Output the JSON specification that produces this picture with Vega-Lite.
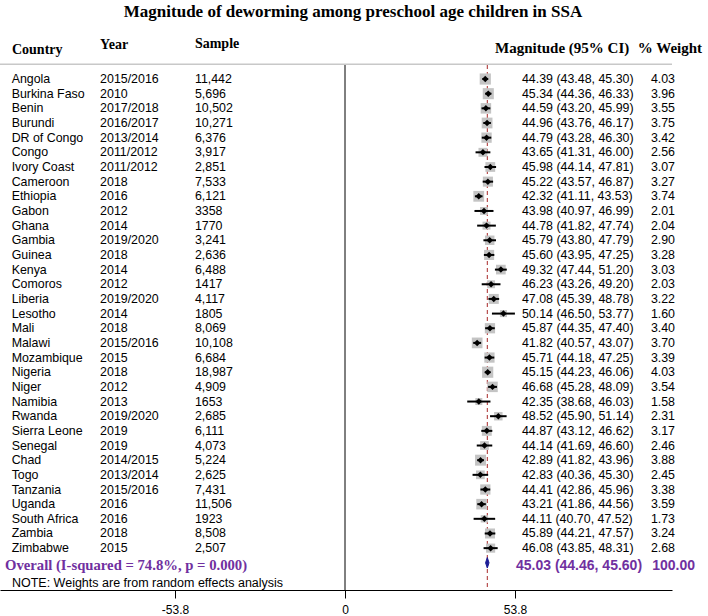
{
  "$schema": "https://vega.github.io/schema/vega-lite/v6.json",
  "width": 672,
  "height": 525,
  "autosize": {"type": "none"},
  "padding": {"left": 0, "top": 65, "right": 36, "bottom": 26},
  "background": "white",
  "config": {"view": {"stroke": null}},
  "title": {
    "text": "Magnitude of deworming among preschool age children in SSA",
    "font": "Liberation Serif",
    "fontSize": 17,
    "fontWeight": "bold",
    "color": "black",
    "anchor": "middle",
    "frame": "group",
    "offset": 16,
    "dx": 17
  },
  "datasets": {
    "studies": [
      {"country": "Angola", "year": "2015/2016", "sample": "11,442", "es": 44.39, "lo": 43.48, "hi": 45.30, "ci": "44.39 (43.48, 45.30)", "w": 4.03},
      {"country": "Burkina Faso", "year": "2010", "sample": "5,696", "es": 45.34, "lo": 44.36, "hi": 46.33, "ci": "45.34 (44.36, 46.33)", "w": 3.96},
      {"country": "Benin", "year": "2017/2018", "sample": "10,502", "es": 44.59, "lo": 43.20, "hi": 45.99, "ci": "44.59 (43.20, 45.99)", "w": 3.55},
      {"country": "Burundi", "year": "2016/2017", "sample": "10,271", "es": 44.96, "lo": 43.76, "hi": 46.17, "ci": "44.96 (43.76, 46.17)", "w": 3.75},
      {"country": "DR of Congo", "year": "2013/2014", "sample": "6,376", "es": 44.79, "lo": 43.28, "hi": 46.30, "ci": "44.79 (43.28, 46.30)", "w": 3.42},
      {"country": "Congo", "year": "2011/2012", "sample": "3,917", "es": 43.65, "lo": 41.31, "hi": 46.00, "ci": "43.65 (41.31, 46.00)", "w": 2.56},
      {"country": "Ivory Coast", "year": "2011/2012", "sample": "2,851", "es": 45.98, "lo": 44.14, "hi": 47.81, "ci": "45.98 (44.14, 47.81)", "w": 3.07},
      {"country": "Cameroon", "year": "2018", "sample": "7,533", "es": 45.22, "lo": 43.57, "hi": 46.87, "ci": "45.22 (43.57, 46.87)", "w": 3.27},
      {"country": "Ethiopia", "year": "2016", "sample": "6,121", "es": 42.32, "lo": 41.11, "hi": 43.53, "ci": "42.32 (41.11, 43.53)", "w": 3.74},
      {"country": "Gabon", "year": "2012", "sample": "3358", "es": 43.98, "lo": 40.97, "hi": 46.99, "ci": "43.98 (40.97, 46.99)", "w": 2.01},
      {"country": "Ghana", "year": "2014", "sample": "1770", "es": 44.78, "lo": 41.82, "hi": 47.74, "ci": "44.78 (41.82, 47.74)", "w": 2.04},
      {"country": "Gambia", "year": "2019/2020", "sample": "3,241", "es": 45.79, "lo": 43.80, "hi": 47.79, "ci": "45.79 (43.80, 47.79)", "w": 2.90},
      {"country": "Guinea", "year": "2018", "sample": "2,636", "es": 45.60, "lo": 43.95, "hi": 47.25, "ci": "45.60 (43.95, 47.25)", "w": 3.28},
      {"country": "Kenya", "year": "2014", "sample": "6,488", "es": 49.32, "lo": 47.44, "hi": 51.20, "ci": "49.32 (47.44, 51.20)", "w": 3.03},
      {"country": "Comoros", "year": "2012", "sample": "1417", "es": 46.23, "lo": 43.26, "hi": 49.20, "ci": "46.23 (43.26, 49.20)", "w": 2.03},
      {"country": "Liberia", "year": "2019/2020", "sample": "4,117", "es": 47.08, "lo": 45.39, "hi": 48.78, "ci": "47.08 (45.39, 48.78)", "w": 3.22},
      {"country": "Lesotho", "year": "2014", "sample": "1805", "es": 50.14, "lo": 46.50, "hi": 53.77, "ci": "50.14 (46.50, 53.77)", "w": 1.60},
      {"country": "Mali", "year": "2018", "sample": "8,069", "es": 45.87, "lo": 44.35, "hi": 47.40, "ci": "45.87 (44.35, 47.40)", "w": 3.40},
      {"country": "Malawi", "year": "2015/2016", "sample": "10,108", "es": 41.82, "lo": 40.57, "hi": 43.07, "ci": "41.82 (40.57, 43.07)", "w": 3.70},
      {"country": "Mozambique", "year": "2015", "sample": "6,684", "es": 45.71, "lo": 44.18, "hi": 47.25, "ci": "45.71 (44.18, 47.25)", "w": 3.39},
      {"country": "Nigeria", "year": "2018", "sample": "18,987", "es": 45.15, "lo": 44.23, "hi": 46.06, "ci": "45.15 (44.23, 46.06)", "w": 4.03},
      {"country": "Niger", "year": "2012", "sample": "4,909", "es": 46.68, "lo": 45.28, "hi": 48.09, "ci": "46.68 (45.28, 48.09)", "w": 3.54},
      {"country": "Namibia", "year": "2013", "sample": "1653", "es": 42.35, "lo": 38.68, "hi": 46.03, "ci": "42.35 (38.68, 46.03)", "w": 1.58},
      {"country": "Rwanda", "year": "2019/2020", "sample": "2,685", "es": 48.52, "lo": 45.90, "hi": 51.14, "ci": "48.52 (45.90, 51.14)", "w": 2.31},
      {"country": "Sierra Leone", "year": "2019", "sample": "6,111", "es": 44.87, "lo": 43.12, "hi": 46.62, "ci": "44.87 (43.12, 46.62)", "w": 3.17},
      {"country": "Senegal", "year": "2019", "sample": "4,073", "es": 44.14, "lo": 41.69, "hi": 46.60, "ci": "44.14 (41.69, 46.60)", "w": 2.46},
      {"country": "Chad", "year": "2014/2015", "sample": "5,224", "es": 42.89, "lo": 41.82, "hi": 43.96, "ci": "42.89 (41.82, 43.96)", "w": 3.88},
      {"country": "Togo", "year": "2013/2014", "sample": "2,625", "es": 42.83, "lo": 40.36, "hi": 45.30, "ci": "42.83 (40.36, 45.30)", "w": 2.45},
      {"country": "Tanzania", "year": "2015/2016", "sample": "7,431", "es": 44.41, "lo": 42.86, "hi": 45.96, "ci": "44.41 (42.86, 45.96)", "w": 3.38},
      {"country": "Uganda", "year": "2016", "sample": "11,506", "es": 43.21, "lo": 41.86, "hi": 44.56, "ci": "43.21 (41.86, 44.56)", "w": 3.59},
      {"country": "South Africa", "year": "2016", "sample": "1923", "es": 44.11, "lo": 40.70, "hi": 47.52, "ci": "44.11 (40.70, 47.52)", "w": 1.73},
      {"country": "Zambia", "year": "2018", "sample": "8,508", "es": 45.89, "lo": 44.21, "hi": 47.57, "ci": "45.89 (44.21, 47.57)", "w": 3.24},
      {"country": "Zimbabwe", "year": "2015", "sample": "2,507", "es": 46.08, "lo": 43.85, "hi": 48.31, "ci": "46.08 (43.85, 48.31)", "w": 2.68}
    ],
    "overall": [
      {"row": "Overall", "label": "Overall  (I-squared = 74.8%, p = 0.000)", "es": 45.03, "lo": 44.46, "hi": 45.60, "ci": "45.03 (44.46, 45.60)", "w": "100.00"}
    ],
    "single": [{}]
  },
  "data": {"name": "studies"},
  "layer": [
    {
      "data": {"name": "single"},
      "mark": {"type": "rule", "color": "#c8c8c8", "strokeWidth": 1.5},
      "encoding": {
        "y": {
          "datum": "gap",
          "type": "nominal",
          "axis": null,
          "scale": {
            "type": "point",
            "padding": 0,
            "range": [-15.3, 512.46],
            "domain": ["hdr", "gap", "Angola", "Burkina Faso", "Benin", "Burundi", "DR of Congo", "Congo", "Ivory Coast", "Cameroon", "Ethiopia", "Gabon", "Ghana", "Gambia", "Guinea", "Kenya", "Comoros", "Liberia", "Lesotho", "Mali", "Malawi", "Mozambique", "Nigeria", "Niger", "Namibia", "Rwanda", "Sierra Leone", "Senegal", "Chad", "Togo", "Tanzania", "Uganda", "South Africa", "Zambia", "Zimbabwe", "Overall", "NOTE"]
          }
        }
      }
    },
    {
      "data": {"name": "single"},
      "mark": {"type": "rule", "color": "black", "strokeWidth": 1},
      "encoding": {
        "x": {
          "datum": 0,
          "type": "quantitative",
          "scale": {"domain": [-109.18, 103.48], "nice": false, "zero": false},
          "axis": {
            "values": [-53.8, 0, 53.8],
            "labelExpr": "'' + datum.value",
            "title": null,
            "grid": false,
            "domainColor": "black",
            "domainWidth": 1,
            "tickColor": "black",
            "tickWidth": 1,
            "tickSize": 8,
            "labelFont": "Liberation Sans",
            "labelFontSize": 12,
            "labelColor": "black",
            "labelPadding": 6,
            "labelFlush": false
          }
        }
      }
    },
    {
      "data": {"name": "overall"},
      "mark": {"type": "rule", "color": "#a82828", "strokeWidth": 1, "strokeDash": [4, 3]},
      "encoding": {"x": {"field": "es", "type": "quantitative"}}
    },
    {
      "mark": {"type": "square", "color": "#c4c4c4", "opacity": 1, "filled": true},
      "encoding": {
        "x": {"field": "es", "type": "quantitative"},
        "y": {"field": "country", "type": "nominal"},
        "size": {"field": "w", "type": "quantitative", "scale": {"domain": [0, 4.03], "range": [0, 125], "zero": true}, "legend": null}
      }
    },
    {
      "mark": {"type": "rule", "color": "black", "strokeWidth": 2},
      "encoding": {
        "x": {"field": "lo", "type": "quantitative"},
        "x2": {"field": "hi"},
        "y": {"field": "country", "type": "nominal"}
      }
    },
    {
      "mark": {"type": "point", "shape": "diamond", "filled": true, "color": "black", "opacity": 1, "size": 42},
      "encoding": {
        "x": {"field": "es", "type": "quantitative"},
        "y": {"field": "country", "type": "nominal"}
      }
    },
    {
      "mark": {"type": "text", "align": "left", "baseline": "middle", "font": "Liberation Sans", "fontSize": 12.4, "color": "black"},
      "encoding": {
        "x": {"datum": -105.5, "type": "quantitative"},
        "y": {"field": "country", "type": "nominal"},
        "text": {"field": "country"}
      }
    },
    {
      "mark": {"type": "text", "align": "left", "baseline": "middle", "font": "Liberation Sans", "fontSize": 12.4, "color": "black"},
      "encoding": {
        "x": {"datum": -77.5, "type": "quantitative"},
        "y": {"field": "country", "type": "nominal"},
        "text": {"field": "year"}
      }
    },
    {
      "mark": {"type": "text", "align": "left", "baseline": "middle", "font": "Liberation Sans", "fontSize": 12.4, "color": "black"},
      "encoding": {
        "x": {"datum": -47.5, "type": "quantitative"},
        "y": {"field": "country", "type": "nominal"},
        "text": {"field": "sample"}
      }
    },
    {
      "mark": {"type": "text", "align": "left", "baseline": "middle", "font": "Liberation Sans", "fontSize": 12.4, "color": "black"},
      "encoding": {
        "x": {"datum": 56.0, "type": "quantitative"},
        "y": {"field": "country", "type": "nominal"},
        "text": {"field": "ci"}
      }
    },
    {
      "mark": {"type": "text", "align": "left", "baseline": "middle", "font": "Liberation Sans", "fontSize": 12.4, "color": "black"},
      "encoding": {
        "x": {"datum": 96.8, "type": "quantitative"},
        "y": {"field": "country", "type": "nominal"},
        "text": {"field": "w", "type": "quantitative", "format": ".2f"}
      }
    },
    {
      "data": {"name": "overall"},
      "mark": {"type": "point", "shape": "M0,-1L0.33,0L0,1L-0.33,0Z", "filled": true, "color": "#1c1c96", "stroke": "#1c1c96", "strokeWidth": 1, "opacity": 1, "size": 110},
      "encoding": {
        "x": {"field": "es", "type": "quantitative"},
        "y": {"field": "row", "type": "nominal"}
      }
    },
    {
      "data": {"name": "overall"},
      "mark": {"type": "text", "align": "left", "baseline": "middle", "font": "Liberation Serif", "fontWeight": "bold", "fontSize": 14.7, "color": "#7030a0", "dy": 3},
      "encoding": {
        "x": {"datum": -107.6, "type": "quantitative"},
        "y": {"field": "row", "type": "nominal"},
        "text": {"field": "label"}
      }
    },
    {
      "data": {"name": "overall"},
      "mark": {"type": "text", "align": "left", "baseline": "middle", "font": "Liberation Sans", "fontWeight": "bold", "fontSize": 14, "color": "#7030a0", "dy": 3},
      "encoding": {
        "x": {"datum": 54.1, "type": "quantitative"},
        "y": {"field": "row", "type": "nominal"},
        "text": {"field": "ci"}
      }
    },
    {
      "data": {"name": "overall"},
      "mark": {"type": "text", "align": "left", "baseline": "middle", "font": "Liberation Sans", "fontWeight": "bold", "fontSize": 14, "color": "#7030a0", "dy": 3},
      "encoding": {
        "x": {"datum": 97.2, "type": "quantitative"},
        "y": {"field": "row", "type": "nominal"},
        "text": {"field": "w"}
      }
    },
    {
      "data": {"name": "single"},
      "mark": {"type": "text", "align": "left", "baseline": "middle", "font": "Liberation Sans", "fontSize": 12.5, "color": "black", "dy": 5.5, "text": "NOTE: Weights are from random effects analysis"},
      "encoding": {
        "x": {"datum": -105.4, "type": "quantitative"},
        "y": {"datum": "NOTE", "type": "nominal"}
      }
    },
    {
      "data": {"name": "single"},
      "mark": {"type": "text", "align": "left", "baseline": "middle", "font": "Liberation Serif", "fontWeight": "bold", "fontSize": 14, "color": "black", "dy": 0, "text": "Country"},
      "encoding": {
        "x": {"datum": -105.4, "type": "quantitative"},
        "y": {"datum": "hdr", "type": "nominal"}
      }
    },
    {
      "data": {"name": "single"},
      "mark": {"type": "text", "align": "left", "baseline": "middle", "font": "Liberation Serif", "fontWeight": "bold", "fontSize": 14, "color": "black", "dy": -5, "text": "Year"},
      "encoding": {
        "x": {"datum": -77.5, "type": "quantitative"},
        "y": {"datum": "hdr", "type": "nominal"}
      }
    },
    {
      "data": {"name": "single"},
      "mark": {"type": "text", "align": "left", "baseline": "middle", "font": "Liberation Serif", "fontWeight": "bold", "fontSize": 14, "color": "black", "dy": -6, "text": "Sample"},
      "encoding": {
        "x": {"datum": -47.5, "type": "quantitative"},
        "y": {"datum": "hdr", "type": "nominal"}
      }
    },
    {
      "data": {"name": "single"},
      "mark": {"type": "text", "align": "left", "baseline": "middle", "font": "Liberation Serif", "fontWeight": "bold", "fontSize": 15, "color": "black", "dy": -2, "text": "Magnitude (95% CI)"},
      "encoding": {
        "x": {"datum": 47.5, "type": "quantitative"},
        "y": {"datum": "hdr", "type": "nominal"}
      }
    },
    {
      "data": {"name": "single"},
      "mark": {"type": "text", "align": "right", "baseline": "middle", "font": "Liberation Serif", "fontWeight": "bold", "fontSize": 15, "color": "black", "dy": -2, "text": "% Weight"},
      "encoding": {
        "x": {"datum": 113.0, "type": "quantitative"},
        "y": {"datum": "hdr", "type": "nominal"}
      }
    }
  ]
}
